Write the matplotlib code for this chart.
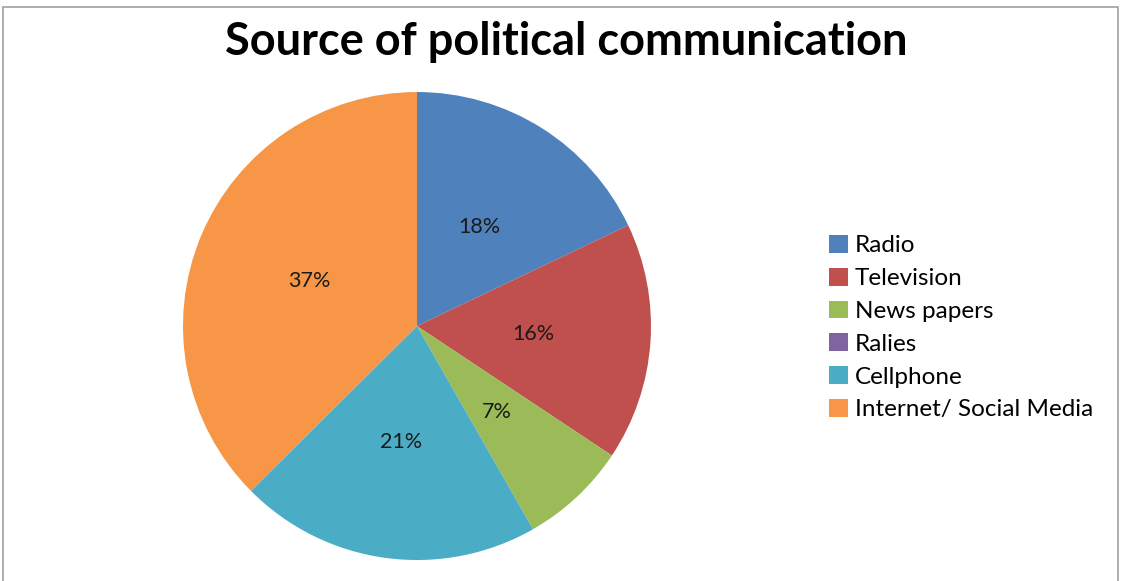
import matplotlib
matplotlib.use("Agg")
import matplotlib.pyplot as plt
from matplotlib.patches import Patch, Rectangle

plt.rcParams["font.family"] = ["Lato", "DejaVu Sans"]

categories = ["Radio", "Television", "News papers", "Ralies", "Cellphone", "Internet/ Social Media"]
shares = [17.9, 16.4, 7.4, 0.0, 20.8, 37.4]
colors = ["#4F81BD", "#C0504D", "#9BBB59", "#8064A2", "#4BACC6", "#F79646"]
title = "Source of political communication"


def pct_label(p):
    # hide the empty slice, excel shows nothing there
    return f"{p:.0f}%" if p > 0.5 else ""


fig = plt.figure(figsize=(11.22, 5.81), dpi=100)
fig.patches.append(Rectangle((3 / 1122, -0.01), 1115 / 1122, 1 - 7 / 581 + 0.01,
                             transform=fig.transFigure, fill=False,
                             edgecolor="#A0A0A0", linewidth=1.2))

ax = fig.add_axes([0.1631, 0.0361, 0.4171, 0.8055])
ax.pie(shares, colors=colors, startangle=90, counterclock=False,
       autopct=pct_label, pctdistance=0.5, radius=1.0,
       textprops={"fontsize": 15.5, "color": "#1a1a1a"})
ax.set_xlim(-1, 1)
ax.set_ylim(-1, 1)
ax.set_aspect("equal")

fig.text(0.505, 0.928, title, ha="center", va="center",
         fontsize=32.5, fontweight="bold", color="black")

handles = [Patch(facecolor=c, edgecolor="none") for c in colors]
fig.legend(handles, categories, loc="center left", bbox_to_anchor=(0.7305, 0.436),
           frameon=False, fontsize=17.5, handlelength=0.75, handleheight=0.75,
           handletextpad=0.3, labelspacing=0.47, borderaxespad=0)

fig.savefig("out.png", dpi=100)
